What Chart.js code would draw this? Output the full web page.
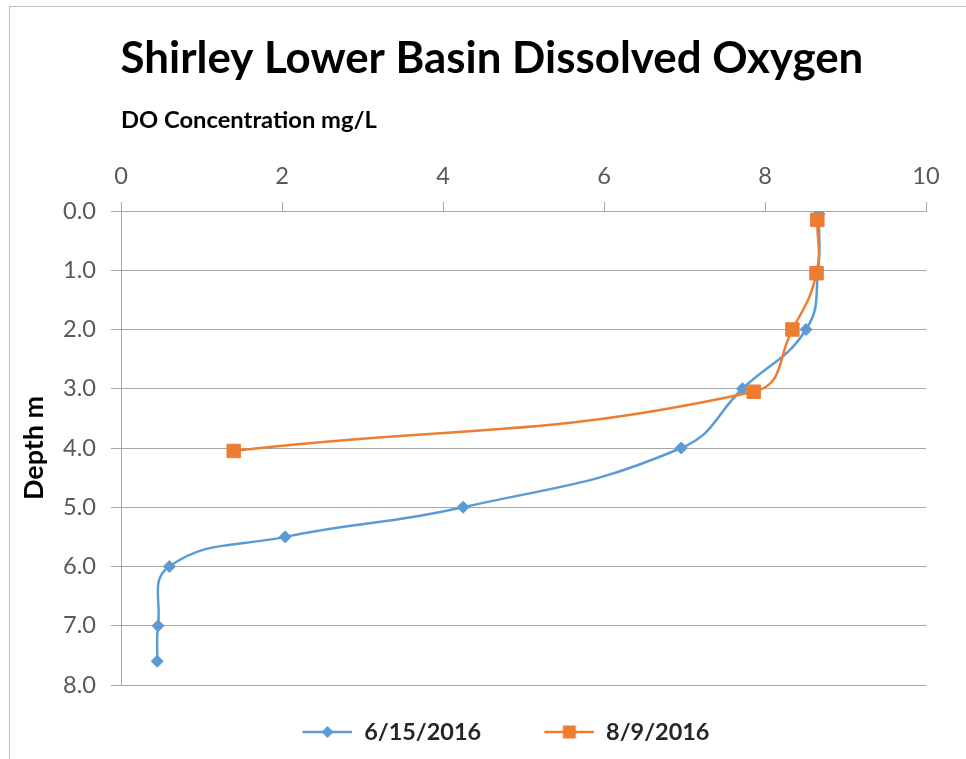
<!DOCTYPE html>
<html>
<head>
<meta charset="utf-8">
<script src="https://cdn.jsdelivr.net/npm/chart.js@4.4.0/dist/chart.umd.min.js"></script>
<style>
  html, body { margin: 0; padding: 0; background: #fff; }
  #wrap { width: 966px; height: 759px; position: relative; }
</style>
</head>
<body>
<div id="wrap"><canvas id="c" width="966" height="759"></canvas></div>
<script>
// ---------- data ----------
const chartTitle = 'Shirley Lower Basin Dissolved Oxygen';
const xAxisTitle = 'DO Concentration mg/L';
const yAxisTitle = 'Depth m';
const seriesNames = ['6/15/2016', '8/9/2016'];

const juneDepth = [0.05, 1.0, 2.0, 3.0, 4.0, 5.0, 5.5, 6.0, 7.0, 7.6];
const juneDO    = [8.67, 8.66, 8.51, 7.72, 6.96, 4.25, 2.04, 0.60, 0.46, 0.45];

const augDepth  = [0.15, 1.05, 2.0, 3.05, 4.05];
const augDO     = [8.65, 8.64, 8.34, 7.86, 1.40];

const xTickValues = [0, 2, 4, 6, 8, 10];
const yTickValues = [0, 1, 2, 3, 4, 5, 6, 7, 8];

// ---------- styling helpers ----------
const FAM = 'Lato, "Open Sans", "DejaVu Sans", sans-serif';
const BLUE = '#5B9BD5';
const ORANGE = '#ED7D31';
const GRID = '#a6a6a6';

function fitSize(text, weight, target) {
  const c = document.createElement('canvas').getContext('2d');
  c.font = weight + ' 100px ' + FAM;
  return 100 * target / c.measureText(text).width;
}
const titleSize  = fitSize(chartTitle, 'bold', 743);
const xTitleSize = fitSize(xAxisTitle, 'bold', 256);
const yTitleSize = fitSize(yAxisTitle, 'bold', 104);
const tickSize   = fitSize('0.0', 'normal', 33);
const legendSize = fitSize(seriesNames[0], 'bold', 117);

const padLeft = 34 - 0.6 * yTitleSize;
const titlePadTop = 59 - 0.6 * titleSize;
const xScaleTop = titlePadTop + 1.2 * titleSize;
const xScaleHeight = 211 - xScaleTop;
const xTitlePadTop = 120 - xScaleTop - 0.6 * xTitleSize;
const xTickPad = 26 - 0.6 * tickSize;

const legPad = 47 - legendSize / 2;
const legBlank = 63 - legPad;
const legHeight = legendSize + legPad + 10;
const padBottom = 74 - legHeight;

function legendIcon(color, style) {
  const w = Math.round(legBlank + 50), h = 20;
  const cv = document.createElement('canvas');
  cv.width = w; cv.height = h;
  const g = cv.getContext('2d');
  g.strokeStyle = color; g.lineWidth = 2.5;
  g.beginPath(); g.moveTo(w - 50, h / 2); g.lineTo(w, h / 2); g.stroke();
  g.fillStyle = color;
  const cx = w - 25, cy = h / 2;
  g.beginPath();
  if (style === 'diamond') {
    g.moveTo(cx, cy - 6); g.lineTo(cx + 6, cy); g.lineTo(cx, cy + 6); g.lineTo(cx - 6, cy);
    g.closePath();
  } else {
    g.rect(cx - 6.5, cy - 6.5, 13, 13);
  }
  g.fill();
  return cv;
}
const legendIcons = [legendIcon(BLUE, 'diamond'), legendIcon(ORANGE, 'square')];

const frame = {
  id: 'frame',
  beforeDraw(chart) {
    const ctx = chart.ctx;
    ctx.save();
    ctx.fillStyle = '#fff';
    ctx.fillRect(0, 0, chart.width, chart.height);
    ctx.strokeStyle = '#bfbfbf';
    ctx.lineWidth = 1;
    ctx.strokeRect(9.5, 6.5, 980, 780);
    ctx.restore();
  }
};

Chart.defaults.font.family = FAM;

new Chart(document.getElementById('c'), {
  type: 'scatter',
  data: {
    datasets: [
      {
        label: seriesNames[0],
        data: juneDO.map((v, i) => ({ x: v, y: juneDepth[i] })),
        showLine: true,
        tension: 0.45,
        borderColor: BLUE,
        backgroundColor: BLUE,
        borderWidth: 2.5,
        pointStyle: 'rectRot',
        pointRadius: 6,
        pointBorderWidth: 1,
        pointBorderColor: BLUE,
        pointBackgroundColor: BLUE,
        order: 1
      },
      {
        label: seriesNames[1],
        data: augDO.map((v, i) => ({ x: v, y: augDepth[i] })),
        showLine: true,
        tension: 0.45,
        borderColor: ORANGE,
        backgroundColor: ORANGE,
        borderWidth: 2.5,
        pointStyle: 'rect',
        pointRadius: 9.5,
        pointBorderWidth: 1,
        pointBorderColor: ORANGE,
        pointBackgroundColor: ORANGE,
        order: 0
      }
    ]
  },
  options: {
    responsive: false,
    devicePixelRatio: 1,
    animation: false,
    events: [],
    layout: { padding: { left: padLeft, right: 0, top: 0, bottom: padBottom } },
    plugins: {
      tooltip: { enabled: false },
      title: {
        display: true,
        text: chartTitle,
        color: '#000',
        font: { size: titleSize, weight: 'bold', family: FAM, lineHeight: 1.2 },
        padding: { top: titlePadTop, bottom: 0 }
      },
      legend: {
        display: true,
        position: 'bottom',
        labels: {
          usePointStyle: true,
          pointStyleWidth: Math.round(legBlank + 50),
          padding: legPad,
          color: '#262626',
          font: { size: legendSize, weight: 'bold', family: FAM },
          generateLabels(chart) {
            const items = Chart.defaults.plugins.legend.labels.generateLabels(chart);
            items.sort((a, b) => a.datasetIndex - b.datasetIndex);
            items.forEach(it => { it.pointStyle = legendIcons[it.datasetIndex]; });
            return items;
          }
        }
      }
    },
    scales: {
      x: {
        type: 'linear',
        position: 'top',
        min: 0,
        max: 10,
        afterBuildTicks(s) { s.ticks = xTickValues.map(v => ({ value: v })); },
        afterFit(s) { s.height = xScaleHeight; },
        ticks: {
          color: '#595959',
          font: { size: tickSize, family: FAM },
          padding: xTickPad,
          maxRotation: 0,
          autoSkip: false
        },
        grid: { display: true, drawOnChartArea: false, drawTicks: true, tickLength: 9, color: GRID },
        border: { display: true, color: GRID, width: 1 },
        title: {
          display: true,
          text: xAxisTitle,
          align: 'start',
          color: '#000',
          font: { size: xTitleSize, weight: 'bold', family: FAM, lineHeight: 1.2 },
          padding: { top: xTitlePadTop, bottom: 0 }
        }
      },
      y: {
        type: 'linear',
        position: 'left',
        reverse: true,
        min: 0,
        max: 8,
        afterBuildTicks(s) { s.ticks = yTickValues.map(v => ({ value: v })); },
        afterFit(s) { s.width = 121 - padLeft; },
        ticks: {
          color: '#595959',
          font: { size: tickSize, family: FAM },
          padding: 15,
          autoSkip: false,
          callback: v => Number(v).toFixed(1)
        },
        grid: { display: true, drawOnChartArea: true, drawTicks: true, tickLength: 10, color: GRID },
        border: { display: true, color: GRID, width: 1 },
        title: {
          display: true,
          text: yAxisTitle,
          color: '#000',
          font: { size: yTitleSize, weight: 'bold', family: FAM, lineHeight: 1.2 },
          padding: { top: 0, bottom: 0 }
        }
      },
      yr: {
        type: 'linear',
        position: 'right',
        display: true,
        ticks: { display: false },
        grid: { display: false },
        border: { display: false },
        afterFit(s) { s.width = 40; }
      }
    }
  },
  plugins: [frame]
});
</script>
</body>
</html>
